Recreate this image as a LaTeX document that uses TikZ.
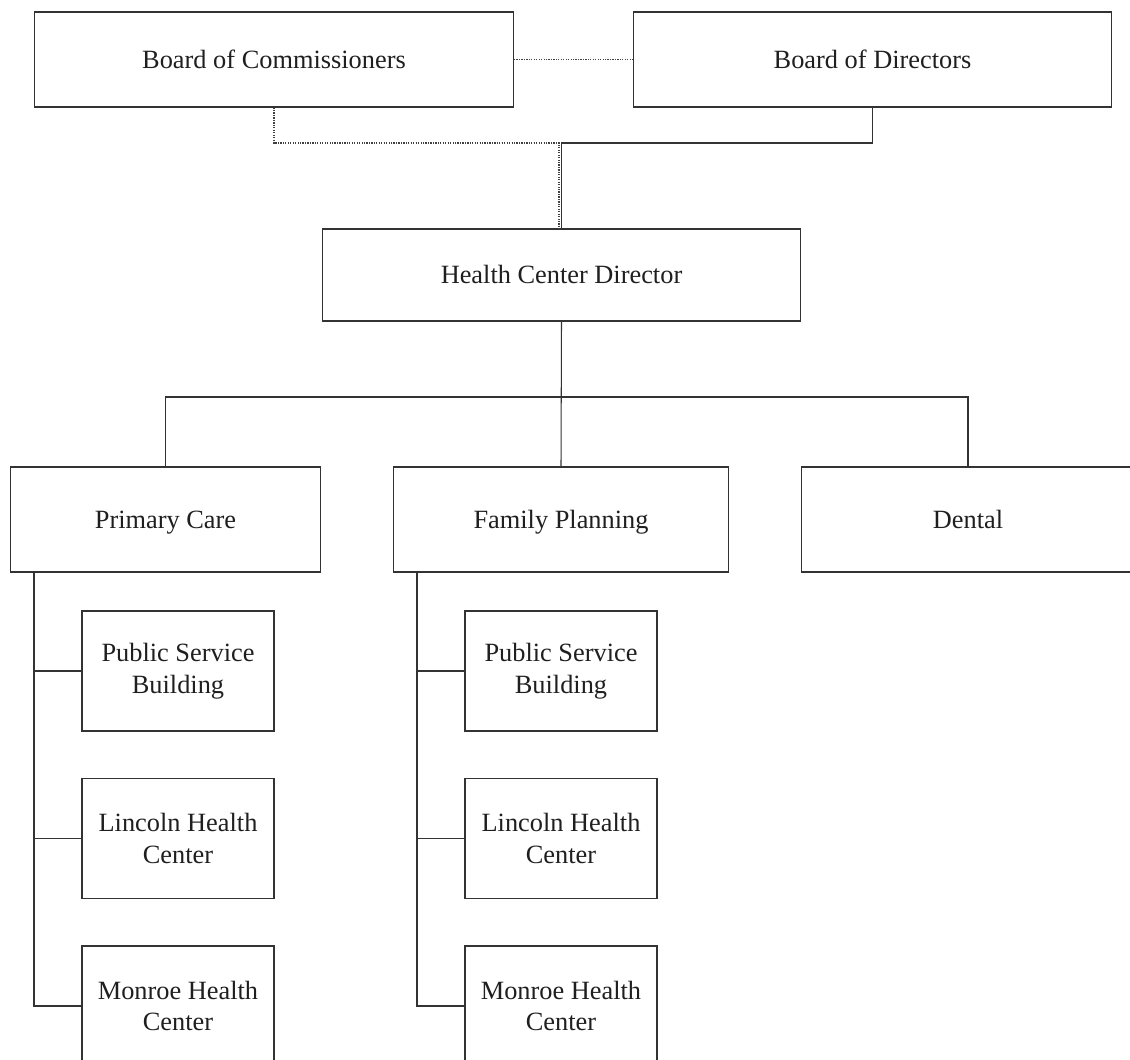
\documentclass[tikz,border=0pt]{standalone}
\usepackage{fontspec}
\setmainfont{Liberation Serif}
\usetikzlibrary{positioning}

\begin{document}
\begin{tikzpicture}[
    x=0.02cm, y=-0.02cm, % one unit = one pixel of the chart
    orgbox/.style={draw=black!80, line width=0.6pt, rectangle, inner sep=0pt,
        text=black!88, align=center, font=\fontsize{15}{18}\selectfont},
    onerow/.style={text height=1.2em, text depth=0.22em},
    topbox/.style={orgbox, onerow, minimum width=9.58cm, minimum height=1.9cm},
    deptbox/.style={orgbox, onerow, minimum height=2.1cm},
    sitebox/.style={orgbox, minimum width=3.84cm, minimum height=2.4cm},
    link/.style={draw=black!80, line width=0.6pt},
    dotlink/.style={draw=black!75, line width=0.6pt, dash pattern=on 0.7pt off 0.7pt}
]

    % Page frame (boxes at the edges run off the page)
    \path[use as bounding box, clip] (0,0) rectangle (1130,1059);

    % Boards
    \node[topbox] (comm) at (274,59.5) {Board of Commissioners};
    \node[topbox] (dirs) at (872.5,59.5) {Board of Directors};

    % Director
    \node[orgbox, onerow, minimum width=9.58cm, minimum height=1.84cm] (hcd) at (561.5,275) {Health Center Director};

    % Departments
    \node[deptbox, minimum width=6.22cm] (pc) at (165.5,519.5) {Primary Care};
    \node[deptbox, minimum width=6.72cm] (fp) at (561,519.5) {Family Planning};
    \node[deptbox, minimum width=6.68cm] (dent) at (968,519.5) {Dental};

    % Sites under each department
    \foreach \dep/\x in {pc/178, fp/561} {
        \node[sitebox] (\dep psb) at (\x,671) {Public Service\\Building};
        \node[sitebox] (\dep lhc) at (\x,838.5) {Lincoln Health\\Center};
        \node[sitebox] (\dep mhc) at (\x,1006) {Monroe Health\\Center};
    }

    % Junctions
    \coordinate (jn) at (561.5,143);
    \coordinate (bar) at (561,397);
    \coordinate (pcrail) at (34,572);
    \coordinate (fprail) at (417,572);

    % Board links
    \draw[dotlink] (comm.east) -- (dirs.west);
    \draw[link] (dirs.south) |- (jn) -- (hcd.north);
    \draw[dotlink] (comm.south) |- ([xshift=-0.05cm]jn) -- ([xshift=-0.05cm]hcd.north);

    % Director to departments
    \draw[link] (hcd.south) -- (fp.north);
    \draw[link] (pc.north) |- (bar) -| (dent.north);

    % Department rails to sites
    \foreach \dep in {pc, fp} {
        \draw[link] (\dep rail) |- (\dep mhc.west);
        \draw[link] (\dep rail |- \dep psb.west) -- (\dep psb.west);
        \draw[link] (\dep rail |- \dep lhc.west) -- (\dep lhc.west);
    }

\end{tikzpicture}
\end{document}
